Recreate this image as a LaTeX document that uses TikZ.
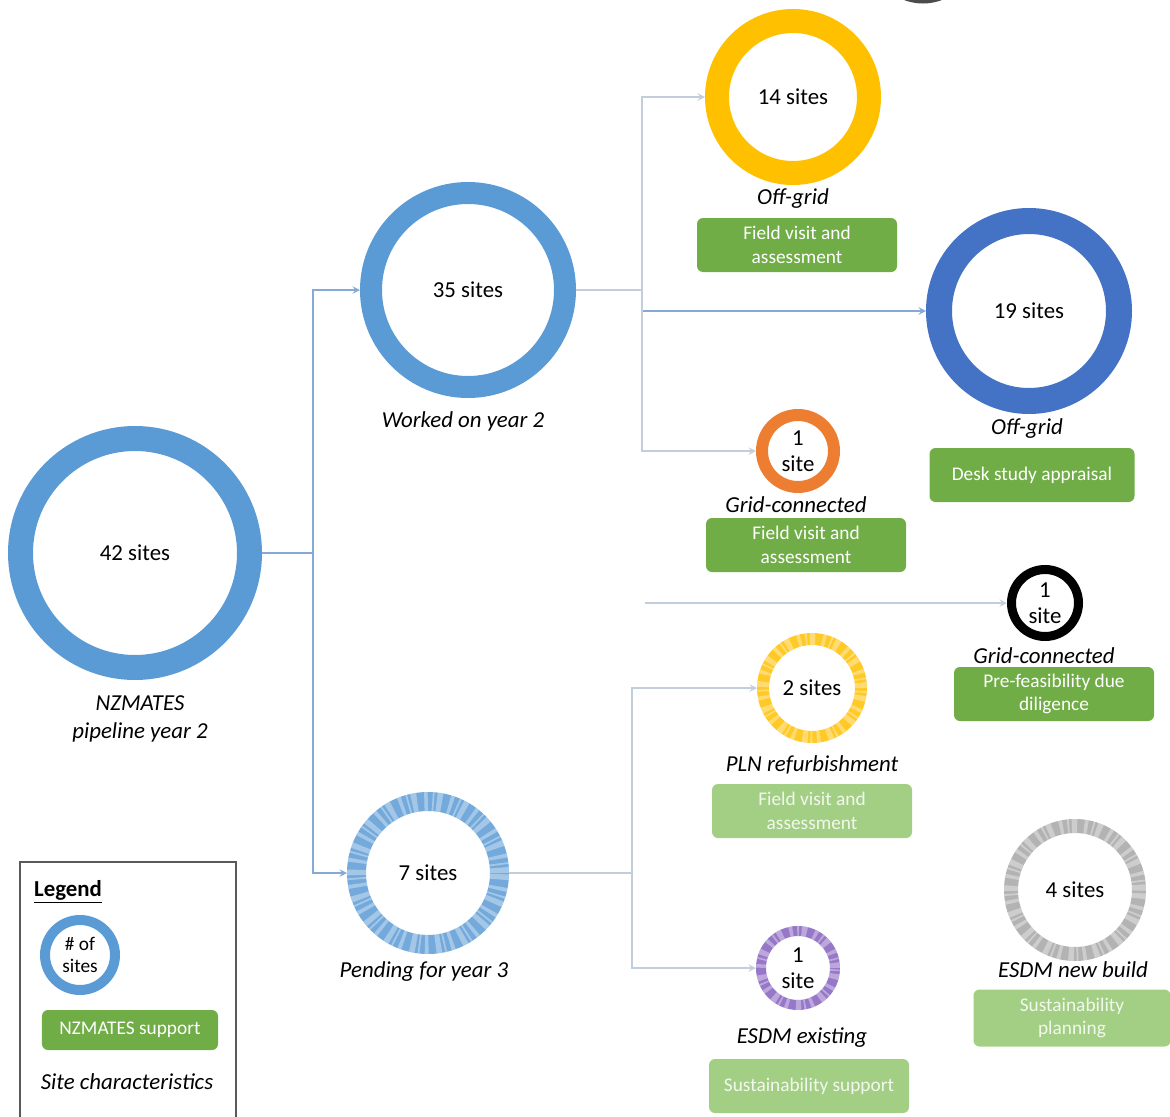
\documentclass[tikz,border=0pt]{standalone}
\usepackage{fontspec}
\setmainfont{Carlito}
\usetikzlibrary{arrows}
\definecolor{ringblue}{HTML}{5B9BD5}
\definecolor{darkblue}{HTML}{4472C4}
\definecolor{gold}{HTML}{FFC000}
\definecolor{ringorange}{HTML}{ED7D31}
\definecolor{ringpurple}{HTML}{8560BE}
\definecolor{ringgrey}{HTML}{A6A6A6}
\definecolor{supgreen}{HTML}{70AD47}
\definecolor{plangreen}{HTML}{A3CF85}
\definecolor{linkblue}{HTML}{86A9D6}
\definecolor{linkgrey}{HTML}{C3CEDC}

\tikzset{
  ring/.style 2 args={circle, draw=#1, line width=#2, inner sep=0pt, align=center,
    font=\fontsize{13}{15}\selectfont},
  texring/.style 2 args={ring={#1!85}{#2},
    postaction={draw=white, draw opacity=.35,
      dash pattern=on 3pt off 1.5pt on 1pt off 2.5pt on 2pt off 4pt}},
  caption/.style={font=\fontsize{13}{16}\selectfont\itshape, align=center},
  support/.style={rectangle, rounded corners=1.2mm, fill=supgreen, text=white,
    align=center, font=\fontsize{11}{13.5}\selectfont, inner sep=1pt,
    minimum width=40mm, minimum height=10.8mm},
  planned/.style={support, fill=plangreen, text=white!85!plangreen},
  link/.style={draw=linkblue, line width=0.3mm},
  faint/.style={draw=linkgrey, line width=0.3mm},
}

\begin{document}
\begin{tikzpicture}[x=0.2mm,y=-0.2mm]
\clip (0,0) rectangle (1170,1117);

% piece of a ring cut by the top edge
\draw[draw=black!70, line width=1.4mm] (923,-50) circle (50);

%pipeline
\node[ring={ringblue}{5mm}, minimum size=45.8mm] (n42) at (135,553) {42 sites};
\node[caption] (c42) at (140,719) {NZMATES\\pipeline year 2};

%year 2 and year 3
\node[ring={ringblue}{4.4mm}, minimum size=38.8mm] (n35) at (468,290) {35 sites};
\node[caption] (c35) at (463,421) {Worked on year 2};
\node[texring={ringblue}{3.8mm}, minimum size=28.6mm] (n7) at (428,873) {7 sites};
\node[caption] (c7) at (424,972) {Pending for year 3};

%worked on year 2
\node[ring={gold}{4.8mm}, minimum size=30.4mm] (n14) at (793,97) {14 sites};
\node[caption] (c14) at (793,199) {Off-grid};
\node[support] (s14) at (797,245) {Field visit and\\assessment};

\node[ring={darkblue}{5.2mm}, minimum size=36mm] (n19) at (1029,311) {19 sites};
\node[caption] (c19) at (1027,429) {Off-grid};
\node[support, minimum width=41mm] (s19) at (1032,475) {Desk study appraisal};

\node[ring={ringorange}{2.4mm}, minimum size=14.4mm] (n1o) at (798,451) {1\\site};
\node[caption] (c1o) at (796,505) {Grid-connected};
\node[support] (s1o) at (806,545) {Field visit and\\assessment};

\node[ring={black}{1.8mm}, minimum size=13.4mm] (n1b) at (1045,603) {1\\site};
\node[caption] (c1b) at (1044,656) {Grid-connected};
\node[support] (s1b) at (1054,694) {Pre-feasibility due\\diligence};

%pending for year 3
\node[texring={gold}{2.4mm}, minimum size=19.6mm] (n2) at (812,688) {2 sites};
\node[caption] (c2) at (812,765) {PLN refurbishment};
\node[planned] (p2) at (812,811) {Field visit and\\assessment};

\node[texring={ringpurple}{2mm}, minimum size=14.8mm] (n1p) at (798,968) {1\\site};
\node[caption] (c1p) at (802,1038) {ESDM existing};
\node[planned] (p1p) at (809,1086) {Sustainability support};

\node[texring={ringgrey}{2.8mm}, minimum size=25.6mm] (n4) at (1075,890) {4 sites};
\node[caption] (c4) at (1073,970) {ESDM new build};
\node[planned, minimum width=39.4mm, minimum height=11.4mm] (p4) at (1072,1018) {Sustainability\\planning};

%connectors
\coordinate (j1) at (313,553);
\coordinate (j2) at (642,290);
\coordinate (j3) at (632,873);
\coordinate (s1) at (645,603);
\draw[link] (n42) -- (j1);
\draw[link,-stealth] (j1) |- (n35);
\draw[link,-stealth] (j1) |- (n7);
\draw[faint] (n35) -- (j2);
\draw[faint,-stealth] (j2) |- (n14);
\draw[link,-stealth] (j2) |- (n19);
\draw[faint,-stealth] (j2) |- (n1o);
\draw[faint,-stealth] (s1) -- (n1b);
\draw[faint] (n7) -- (j3);
\draw[faint,-stealth] (j3) |- (n2);
\draw[faint,-stealth] (j3) |- (n1p);

%legend
\draw[draw=black!65, line width=0.5mm] (20,862) rectangle (236,1140);
\node[anchor=west, font=\fontsize{13}{15}\selectfont\bfseries] (lt) at (28,892) {\underline{Legend}};
\node[ring={ringblue}{2mm}, minimum size=14mm, font=\fontsize{11}{13}\selectfont] (lr) at (80,955) {\# of\\sites};
\node[support, minimum width=35.2mm, minimum height=8mm] (ls) at (130,1030) {NZMATES support};
\node[caption] (lc) at (127,1082) {Site characteristics};

\end{tikzpicture}
\end{document}
